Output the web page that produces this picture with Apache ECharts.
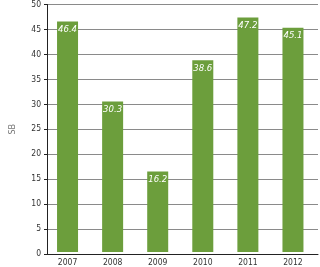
<!DOCTYPE html>
<html><head><meta charset="utf-8">
<script src="https://cdn.jsdelivr.net/npm/echarts@6/dist/echarts.min.js"></script>
<style>html,body{margin:0;padding:0;background:#fff}#c{width:320px;height:267px}</style>
</head><body><div id="c"></div>
<script>
const categories = ['2007','2008','2009','2010','2011','2012'];
const values = [46.4, 30.3, 16.2, 38.6, 47.2, 45.1];
const yTicks = [0,5,10,15,20,25,30,35,40,45,50];

const chart = echarts.init(document.getElementById('c'), null, {renderer:'canvas'});
const fontFamily = 'DejaVu Sans Condensed, Liberation Sans, sans-serif';
chart.setOption({
  animation:false,
  grid:[
    {left:32, right:2, top:3.5, bottom:13},
    {left:45, right:4.5, top:3.5, bottom:13}
  ],
  xAxis:[
    {gridIndex:0, type:'value', min:0, max:1, show:true,
     axisLine:{show:true, lineStyle:{color:'#222', width:1}},
     axisTick:{show:false}, axisLabel:{show:false}, splitLine:{show:false}},
    {gridIndex:1, type:'category', data:categories,
     axisLine:{show:false}, axisTick:{show:false},
     axisLabel:{color:'#333', fontSize:8.5, fontFamily, margin:6}}
  ],
  yAxis:[
    {gridIndex:0, type:'value', min:yTicks[0], max:yTicks[yTicks.length-1], interval:5,
     name:'SB', nameLocation:'middle', nameGap:30, nameRotate:90,
     nameTextStyle:{color:'#777', fontSize:9, fontFamily},
     axisLine:{show:true, lineStyle:{color:'#222', width:1}},
     axisTick:{show:true, length:3, lineStyle:{color:'#222'}},
     axisLabel:{color:'#333', fontSize:8.5, fontFamily, margin:6},
     splitLine:{show:true, lineStyle:{color:'#8a8a8a', width:1}}},
    {gridIndex:1, type:'value', min:0, max:50, interval:5, show:false}
  ],
  series:[{
    type:'bar', xAxisIndex:1, yAxisIndex:1, data:values, barWidth:21,
    itemStyle:{color:'#6c9e3c'},
    label:{show:true, position:'insideTop', distance:3, color:'#fff', fontSize:9.5,
      fontStyle:'italic', fontFamily}
  }]
});
</script></body></html>
